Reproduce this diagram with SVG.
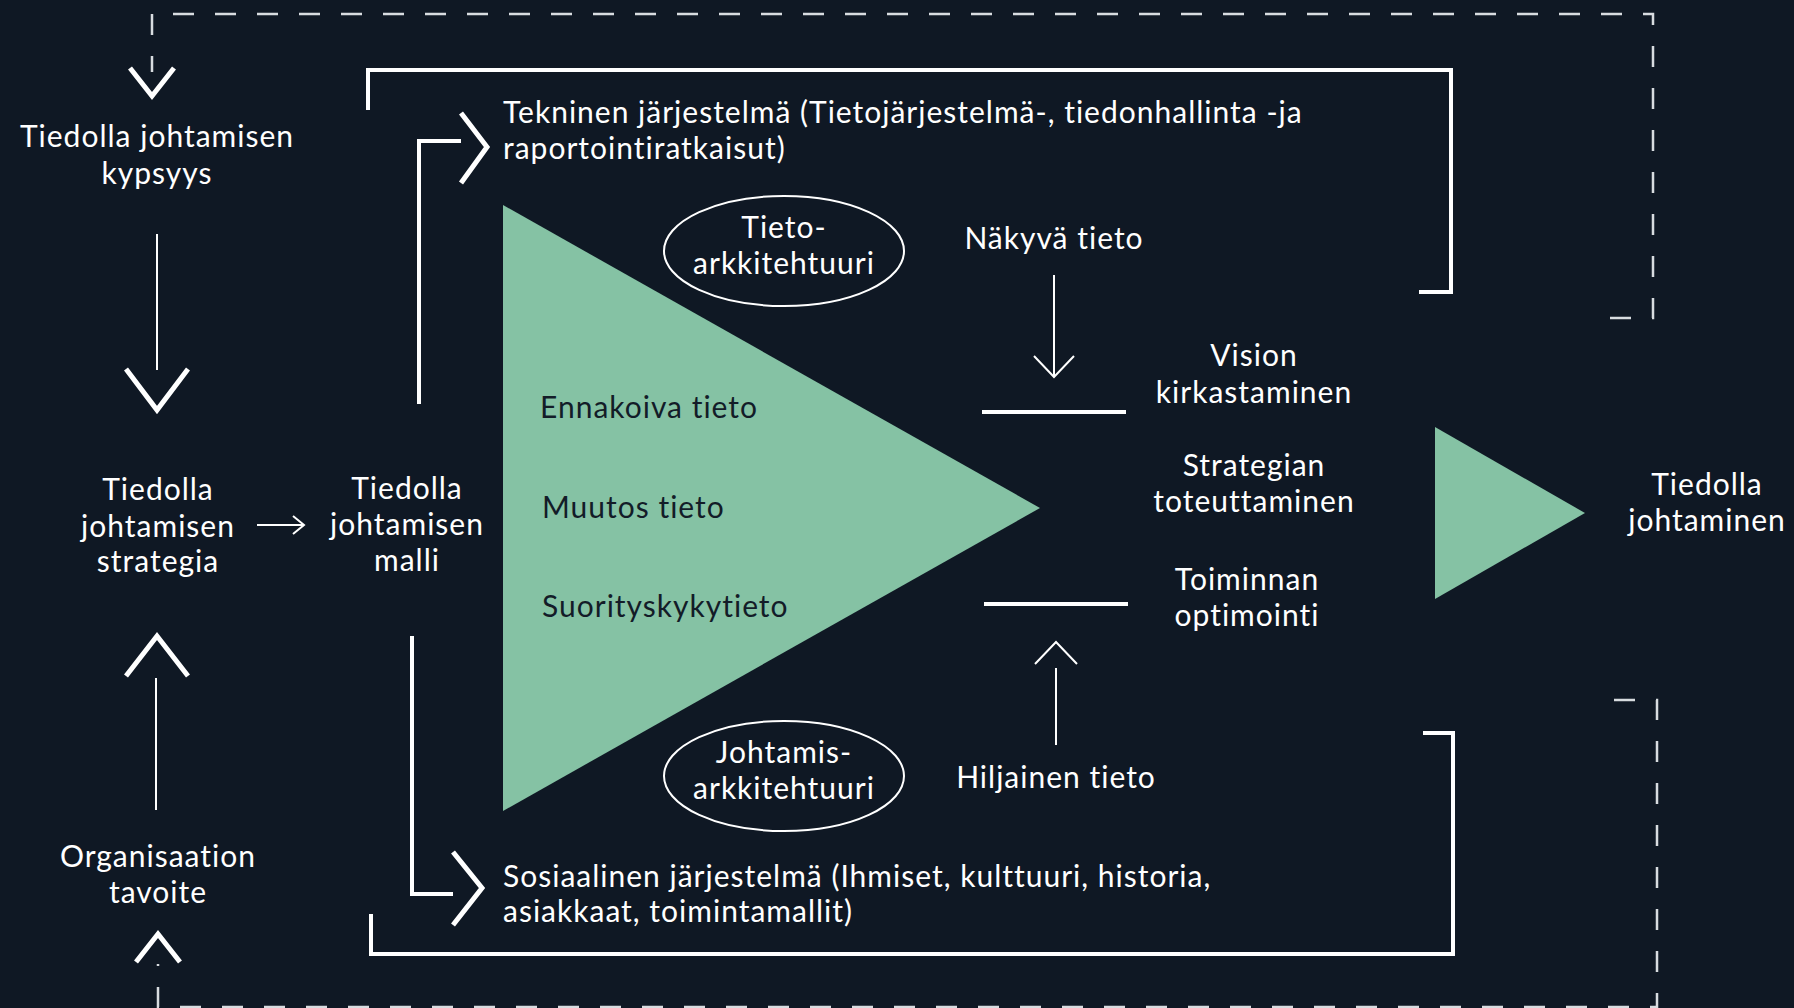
<svg xmlns="http://www.w3.org/2000/svg" width="1794" height="1008" viewBox="0 0 1794 1008">
<style>
text{font-family:Lato,"Open Sans","Liberation Sans",sans-serif;font-size:30px;font-weight:400;fill:#FFFFFF;letter-spacing:1px}
.c{text-anchor:middle}
.dk{fill:#131C28}
.thin{fill:none;stroke:#FFFFFF;stroke-width:2}
.thick{fill:none;stroke:#FFFFFF;stroke-width:4}
.chev{fill:none;stroke:#FFFFFF;stroke-width:5;stroke-linejoin:miter;stroke-miterlimit:10}
.dash{fill:none;stroke:#D8DCE0;stroke-width:2.5;stroke-dasharray:21 21}
.ell{fill:none;stroke:#FFFFFF;stroke-width:2}
.green{fill:#85C2A4}
</style>
<rect width="1794" height="1008" fill="#0F1824"/>

<g id="connectors">
  <!-- top dashed feedback loop -->
  <path class="dash" d="M1610,318 H1653 V14 H152 V72"/>
  <!-- bottom dashed feedback loop -->
  <path class="dash" d="M1614,700 H1657 V1007 H158 V964"/>
  <!-- kypsyys -> strategia -->
  <line class="thin" x1="157" y1="234" x2="157" y2="370"/>
  <polyline class="chev" points="126,369 157,410 188,369"/>
  <polyline class="chev" points="130,68 152,96 174,68"/>
  <!-- tavoite -> strategia -->
  <line class="thin" x1="156" y1="678" x2="156" y2="810"/>
  <polyline class="chev" points="126,676 157,636 188,676"/>
  <polyline class="chev" points="136,962 158,934 180,962"/>
  <!-- strategia -> malli -->
  <line class="thin" x1="257" y1="525" x2="303" y2="525"/>
  <polyline class="thin" points="293,516 304,525 293,534"/>
  <!-- malli -> tekninen -->
  <polyline class="thick" points="419,404 419,141 461,141"/>
  <polyline class="chev" points="461,113 487,147 461,183"/>
  <!-- malli -> sosiaalinen -->
  <polyline class="thick" points="412,636 412,894 453,894"/>
  <polyline class="chev" points="453,852 482,888 453,925"/>
  <!-- brackets -->
  <polyline class="thick" points="368,110 368,70 1451,70 1451,292 1419,292"/>
  <polyline class="thick" points="371,914 371,954 1453,954 1453,733 1423,733"/>
  <!-- näkyvä tieto -->
  <line class="thin" x1="1054" y1="275" x2="1054" y2="377"/>
  <polyline class="thin" points="1034,356 1054,377 1074,356"/>
  <line class="thick" x1="982" y1="412" x2="1126" y2="412"/>
  <!-- hiljainen tieto -->
  <line class="thin" x1="1056" y1="668" x2="1056" y2="745"/>
  <polyline class="thin" points="1035,664 1056,642 1077,664"/>
  <line class="thick" x1="984" y1="604" x2="1128" y2="604"/>
</g>

<g id="node-kypsyys">
  <text class="c" x="157" y="147">Tiedolla johtamisen</text>
  <text class="c" x="157" y="184">kypsyys</text>
</g>
<g id="node-strategia">
  <text class="c" x="158" y="500">Tiedolla</text>
  <text class="c" x="158" y="537">johtamisen</text>
  <text class="c" x="158" y="572">strategia</text>
</g>
<g id="node-malli">
  <text class="c" x="407" y="499">Tiedolla</text>
  <text class="c" x="407" y="535">johtamisen</text>
  <text class="c" x="407" y="571">malli</text>
</g>
<g id="node-tavoite">
  <text class="c" x="158" y="867">Organisaation</text>
  <text class="c" x="158" y="903">tavoite</text>
</g>
<g id="node-tekninen">
  <text x="503" y="123">Tekninen järjestelmä (Tietojärjestelmä-, tiedonhallinta -ja</text>
  <text x="503" y="159">raportointiratkaisut)</text>
</g>
<g id="node-sosiaalinen">
  <text x="503" y="887">Sosiaalinen järjestelmä (Ihmiset, kulttuuri, historia,</text>
  <text x="503" y="922">asiakkaat, toimintamallit)</text>
</g>
<g id="node-tieto-triangle">
  <polygon class="green" points="503,205 1040,508 503,811"/>
  <text class="dk" x="540" y="418">Ennakoiva tieto</text>
  <text class="dk" x="542" y="518">Muutos tieto</text>
  <text class="dk" x="542" y="617">Suorityskykytieto</text>
</g>
<g id="node-tietoarkkitehtuuri">
  <ellipse class="ell" cx="784" cy="251" rx="120" ry="55"/>
  <text class="c" x="784" y="238">Tieto-</text>
  <text class="c" x="784" y="274">arkkitehtuuri</text>
</g>
<g id="node-johtamisarkkitehtuuri">
  <ellipse class="ell" cx="784" cy="776" rx="120" ry="55"/>
  <text class="c" x="784" y="763">Johtamis-</text>
  <text class="c" x="784" y="799">arkkitehtuuri</text>
</g>
<g id="node-nakyva">
  <text class="c" x="1054" y="249">Näkyvä tieto</text>
</g>
<g id="node-hiljainen">
  <text class="c" x="1056" y="788">Hiljainen tieto</text>
</g>
<g id="node-vision">
  <text class="c" x="1254" y="366">Vision</text>
  <text class="c" x="1254" y="403">kirkastaminen</text>
</g>
<g id="node-strategian">
  <text class="c" x="1254" y="476">Strategian</text>
  <text class="c" x="1254" y="512">toteuttaminen</text>
</g>
<g id="node-toiminnan">
  <text class="c" x="1247" y="590">Toiminnan</text>
  <text class="c" x="1247" y="626">optimointi</text>
</g>
<g id="node-result-triangle">
  <polygon class="green" points="1435,427 1585,513 1435,599"/>
</g>
<g id="node-tiedolla-johtaminen">
  <text class="c" x="1707" y="495">Tiedolla</text>
  <text class="c" x="1707" y="531">johtaminen</text>
</g>
</svg>
